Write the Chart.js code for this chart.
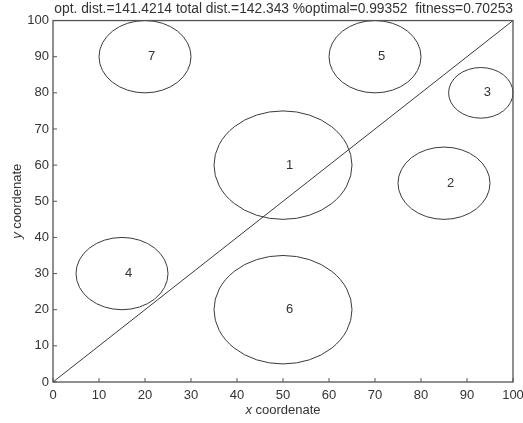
<!DOCTYPE html>
<html>
<head>
<meta charset="utf-8">
<script src="https://cdn.jsdelivr.net/npm/chart.js@4.4.1/dist/chart.umd.min.js"></script>
<style>
  html, body { margin: 0; padding: 0; background: #ffffff; }
  #wrap { width: 523px; height: 423px; }
</style>
</head>
<body>
<div id="wrap"><canvas id="c" width="523" height="423"></canvas></div>
<script>
// ---- data ----
const titleText = 'opt. dist.=141.4214 total dist.=142.343 %optimal=0.99352  fitness=0.70253';
const circleLabels = ['1', '2', '3', '4', '5', '6', '7'];
const circleX = [50, 85, 93, 15, 70, 50, 20];
const circleY = [60, 55, 80, 30, 90, 20, 90];
const circleR = [15, 10, 7, 10, 10, 15, 10];
const pathX = [0, 100];
const pathY = [0, 100];
const xTickStep = 10;
const yTickStep = 10;
const xAxisName = ['x', ' coordenate'];
const yAxisName = ['y', ' coordenate'];

const FONT = "'Liberation Sans', Arial, sans-serif";
const INK = '#333333';

const pathData = pathX.map((x, i) => ({ x: x, y: pathY[i] }));

const decor = {
  id: 'decor',
  afterDatasetsDraw(chart) {
    const ctx = chart.ctx;
    const xs = chart.scales.x, ys = chart.scales.y;
    const a = chart.chartArea;
    ctx.save();
    ctx.strokeStyle = '#3a3a3a';
    ctx.lineWidth = 1;
    for (let i = 0; i < circleX.length; i++) {
      const px = xs.getPixelForValue(circleX[i]);
      const py = ys.getPixelForValue(circleY[i]);
      const rx = Math.abs(xs.getPixelForValue(circleX[i] + circleR[i]) - px);
      const ry = Math.abs(ys.getPixelForValue(circleY[i] + circleR[i]) - py);
      ctx.beginPath();
      ctx.ellipse(px, py, rx, ry, 0, 0, Math.PI * 2);
      ctx.stroke();
      ctx.fillStyle = INK;
      ctx.font = '13px ' + FONT;
      ctx.textAlign = 'left';
      ctx.textBaseline = 'middle';
      ctx.fillText(circleLabels[i], px + 3, py);
    }
    ctx.strokeStyle = '#555555';
    ctx.lineWidth = 1.3;
    ctx.strokeRect(a.left, a.top, a.right - a.left, a.bottom - a.top);
    ctx.lineWidth = 1;
    ctx.beginPath();
    xs.ticks.forEach(t => {
      const p = xs.getPixelForValue(t.value);
      ctx.moveTo(p, a.bottom);
      ctx.lineTo(p, a.bottom - 4);
    });
    ys.ticks.forEach(t => {
      const p = ys.getPixelForValue(t.value);
      ctx.moveTo(a.left, p);
      ctx.lineTo(a.left + 4, p);
    });
    ctx.stroke();
    ctx.fillStyle = INK;
    ctx.textBaseline = 'middle';
    ctx.textAlign = 'left';
    const fi = 'italic 13px ' + FONT, fn = '13px ' + FONT;
    ctx.font = fi; const wxi = ctx.measureText(xAxisName[0]).width;
    ctx.font = fn; const wxn = ctx.measureText(xAxisName[1]).width;
    const cx = (a.left + a.right) / 2;
    let sx = cx - (wxi + wxn) / 2;
    ctx.font = fi; ctx.fillText(xAxisName[0], sx, 410);
    ctx.font = fn; ctx.fillText(xAxisName[1], sx + wxi, 410);
    ctx.save();
    ctx.translate(17, (a.top + a.bottom) / 2);
    ctx.rotate(-Math.PI / 2);
    ctx.font = fi; const wyi = ctx.measureText(yAxisName[0]).width;
    ctx.font = fn; const wyn = ctx.measureText(yAxisName[1]).width;
    let sy = -(wyi + wyn) / 2;
    ctx.font = fi; ctx.fillText(yAxisName[0], sy, 0);
    ctx.font = fn; ctx.fillText(yAxisName[1], sy + wyi, 0);
    ctx.restore();
    ctx.restore();
  }
};

new Chart(document.getElementById('c'), {
  type: 'scatter',
  data: {
    datasets: [{
      label: 'tour',
      data: pathData,
      showLine: true,
      borderColor: '#3a3a3a',
      borderWidth: 1,
      pointRadius: 0,
      fill: false,
      tension: 0
    }]
  },
  options: {
    responsive: false,
    animation: false,
    devicePixelRatio: 1,
    layout: { padding: { left: 0, right: 10, top: 0, bottom: 0 } },
    plugins: {
      legend: { display: false },
      tooltip: { enabled: false },
      title: {
        display: true,
        text: titleText,
        align: 'end',
        color: INK,
        font: { family: FONT, size: 13.8, weight: 'normal' },
        padding: { top: 1, bottom: 3 }
      }
    },
    scales: {
      x: {
        type: 'linear',
        min: 0, max: 100,
        grid: { display: false, drawTicks: false },
        border: { display: false },
        ticks: { stepSize: xTickStep, color: INK, padding: 6, maxRotation: 0,
                 font: { family: FONT, size: 13 } },
        afterFit(s) { s.height = 41; s.paddingLeft = 0; s.paddingRight = 0; }
      },
      y: {
        type: 'linear',
        min: 0, max: 100,
        grid: { display: false, drawTicks: false },
        border: { display: false },
        ticks: { stepSize: yTickStep, color: INK, padding: 4,
                 font: { family: FONT, size: 13 } },
        afterFit(s) { s.width = 53; s.paddingTop = 0; s.paddingBottom = 0; }
      }
    }
  },
  plugins: [decor]
});
</script>
</body>
</html>
